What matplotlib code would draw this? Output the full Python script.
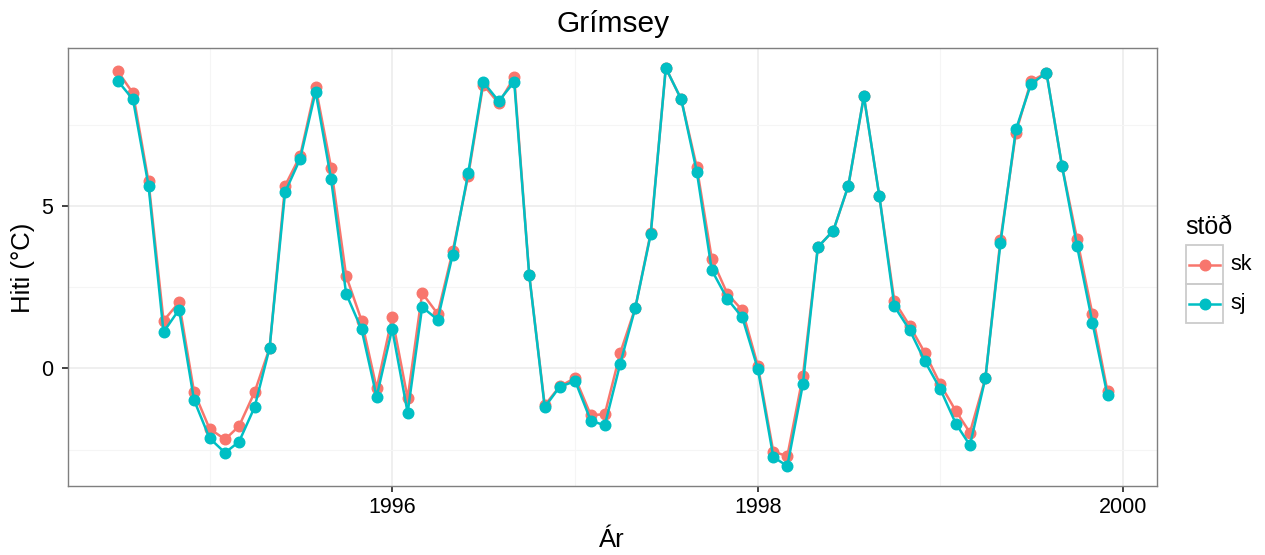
import matplotlib
matplotlib.use("Agg")
import matplotlib.pyplot as plt
import matplotlib.dates as mdates
import pandas as pd
from matplotlib.patches import Rectangle
from matplotlib.lines import Line2D

plt.rcParams['font.family'] = ['Liberation Sans', 'DejaVu Sans']

# monthly means, July 1994 - December 1999
months = pd.date_range("1994-07-01", "1999-12-01", freq="MS")

sk = [9.15, 8.46, 5.75, 1.47, 2.03, -0.72, -1.85, -2.18, -1.77, -0.73, 0.63, 5.62,
      6.53, 8.66, 6.17, 2.85, 1.47, -0.61, 1.57, -0.92, 2.32, 1.68, 3.60, 5.92,
      8.73, 8.15, 8.95, 2.88, -1.13, -0.55, -0.29, -1.43, -1.41, 0.48, 1.86, 4.18,
      9.24, 8.27, 6.19, 3.37, 2.30, 1.79, 0.09, -2.56, -2.69, -0.24, 3.73, 4.24,
      5.62, 8.37, 5.29, 2.07, 1.30, 0.48, -0.49, -1.31, -1.97, -0.29, 3.96, 7.25,
      8.83, 9.09, 6.23, 3.99, 1.66, -0.70]

sj = [8.85, 8.27, 5.62, 1.12, 1.81, -0.97, -2.14, -2.59, -2.25, -1.19, 0.63, 5.42,
      6.44, 8.51, 5.82, 2.30, 1.20, -0.87, 1.22, -1.36, 1.89, 1.50, 3.50, 6.00,
      8.81, 8.22, 8.81, 2.88, -1.19, -0.56, -0.39, -1.60, -1.75, 0.15, 1.86, 4.13,
      9.24, 8.27, 6.05, 3.02, 2.14, 1.57, -0.01, -2.72, -3.00, -0.49, 3.73, 4.24,
      5.62, 8.37, 5.29, 1.91, 1.17, 0.22, -0.64, -1.70, -2.36, -0.29, 3.85, 7.35,
      8.74, 9.09, 6.23, 3.77, 1.40, -0.83]

stations = ["sk", "sj"]
colors = ["#F8766D", "#00BFC4"]

W, H = 1265, 555
fig = plt.figure(figsize=(W / 100, H / 100), dpi=100)
ax = fig.add_axes([68 / W, 1 - 486 / H, (1157 - 68) / W, (486 - 48) / H])

for name, vals, col in zip(stations, [sk, sj], colors):
    ax.plot(months, vals, color=col, lw=1.8, marker="o", ms=7.6, mec=col, mfc=col, zorder=3)

ax.margins(x=0.05, y=0.05)
ax.xaxis.set_major_locator(mdates.YearLocator(2))
ax.xaxis.set_minor_locator(mdates.YearLocator(1))
ax.xaxis.set_major_formatter(mdates.DateFormatter("%Y"))
ax.set_yticks([0, 5])
ax.set_yticks([-2.5, 2.5, 7.5], minor=True)

ax.grid(which="major", color="#EBEBEB", lw=1.1, zorder=0)
ax.grid(which="minor", color="#F5F5F5", lw=0.8, zorder=0)
ax.set_axisbelow(True)
for s in ax.spines.values():
    s.set_color("#7F7F7F")
    s.set_linewidth(1.0)
ax.tick_params(which="major", length=4, width=1.3, color="#333333", labelsize=15.5,
               labelcolor="black")
ax.tick_params(axis="x", pad=4)
ax.tick_params(axis="y", pad=6.5)
ax.tick_params(which="minor", length=0)

# titles placed in pixel coordinates
fig.text(613 / W, 1 - 32 / H, "Grímsey", fontsize=21.5, ha="center", va="baseline")
fig.text(612 / W, 1 - 547 / H, "Ár", fontsize=18.5, ha="center", va="baseline")
fig.text(23 / W, 1 - 268 / H, "Hiti (°C)", fontsize=18.5, ha="center", va="center",
         rotation=90)

# legend drawn as ggplot-style keys
lax = fig.add_axes([0, 0, 1, 1], facecolor="none")
lax.set_xlim(0, W)
lax.set_ylim(H, 0)
lax.axis("off")
lax.text(1185, 234, "stöð", fontsize=18, va="baseline", ha="left")
for k, (name, col) in enumerate(zip(stations, colors)):
    y0 = 245 + 39 * k
    lax.add_patch(Rectangle((1186, y0), 37, 39, fill=False, ec="#CCCCCC", lw=1.3))
    lax.add_line(Line2D([1189, 1220], [y0 + 19.5, y0 + 19.5], color=col, lw=1.8))
    lax.plot([1204.5], [y0 + 19.5], "o", color=col, ms=7.6)
    lax.text(1230, y0 + 20, name, fontsize=15.5, va="center", ha="left")

fig.savefig("out.png", dpi=100)
